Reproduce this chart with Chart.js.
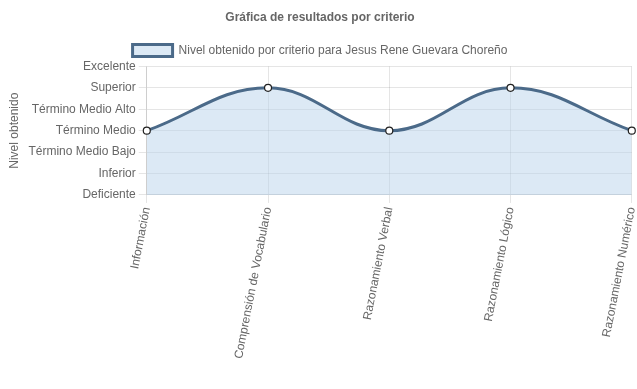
<!DOCTYPE html>
<html>
<head>
<meta charset="utf-8">
<script src="https://cdn.jsdelivr.net/npm/chart.js@4.4.0/dist/chart.umd.min.js"></script>
<style>
  html, body { margin: 0; padding: 0; background: #fff; }
  #wrap { width: 637px; height: 389px; }
</style>
</head>
<body>
<div id="wrap"><canvas id="grafica"></canvas></div>
<script>
// datos
const criterios = ['Información', 'Comprensión de Vocabulario', 'Razonamiento Verbal', 'Razonamiento Lógico', 'Razonamiento Numérico'];
const niveles = ['Deficiente', 'Inferior', 'Término Medio Bajo', 'Término Medio', 'Término Medio Alto', 'Superior', 'Excelente'];
const resultados = [3, 5, 3, 5, 3];

Chart.defaults.font.family = '"Liberation Sans", Arial, sans-serif';
Chart.defaults.font.size = 12;
Chart.defaults.color = '#666';

const grafica = new Chart(document.getElementById('grafica').getContext('2d'), {
    type: 'line',
    data: {
        labels: criterios,
        datasets: [{
            label: 'Nivel obtenido por criterio para Jesus Rene Guevara Choreño',
            data: resultados,
            backgroundColor: 'rgba(185, 211, 235, 0.5)',
            borderColor: '#4b6a89',
            borderWidth: 3,
            fill: true,
            tension: 0.4,
            pointBackgroundColor: '#fff',
            pointBorderColor: '#222',
            pointBorderWidth: 1.2,
            pointRadius: 3.5
        }]
    },
    options: {
        responsive: true,
        maintainAspectRatio: false,
        animation: false,
        layout: { padding: { left: 3, right: 0, bottom: 26 } },
        plugins: {
            title: {
                display: true,
                text: 'Gráfica de resultados por criterio',
                font: { size: 12, weight: 'bold' },
                padding: { top: 10, bottom: 11 }
            },
            legend: {
                labels: { boxWidth: 40, boxHeight: 12, padding: 9 }
            }
        },
        scales: {
            x: {
                grid: { color: 'rgba(0,0,0,0.1)' },
                ticks: { minRotation: 79, maxRotation: 79 },
                afterFit: function (s) { s.paddingRight = 0; }
            },
            y: {
                min: 0,
                max: 6,
                grid: { color: 'rgba(0,0,0,0.1)' },
                ticks: {
                    stepSize: 1,
                    callback: function (v) { return niveles[v]; }
                },
                title: { display: true, text: 'Nivel obtenido' }
            }
        }
    }
});
</script>
</body>
</html>
